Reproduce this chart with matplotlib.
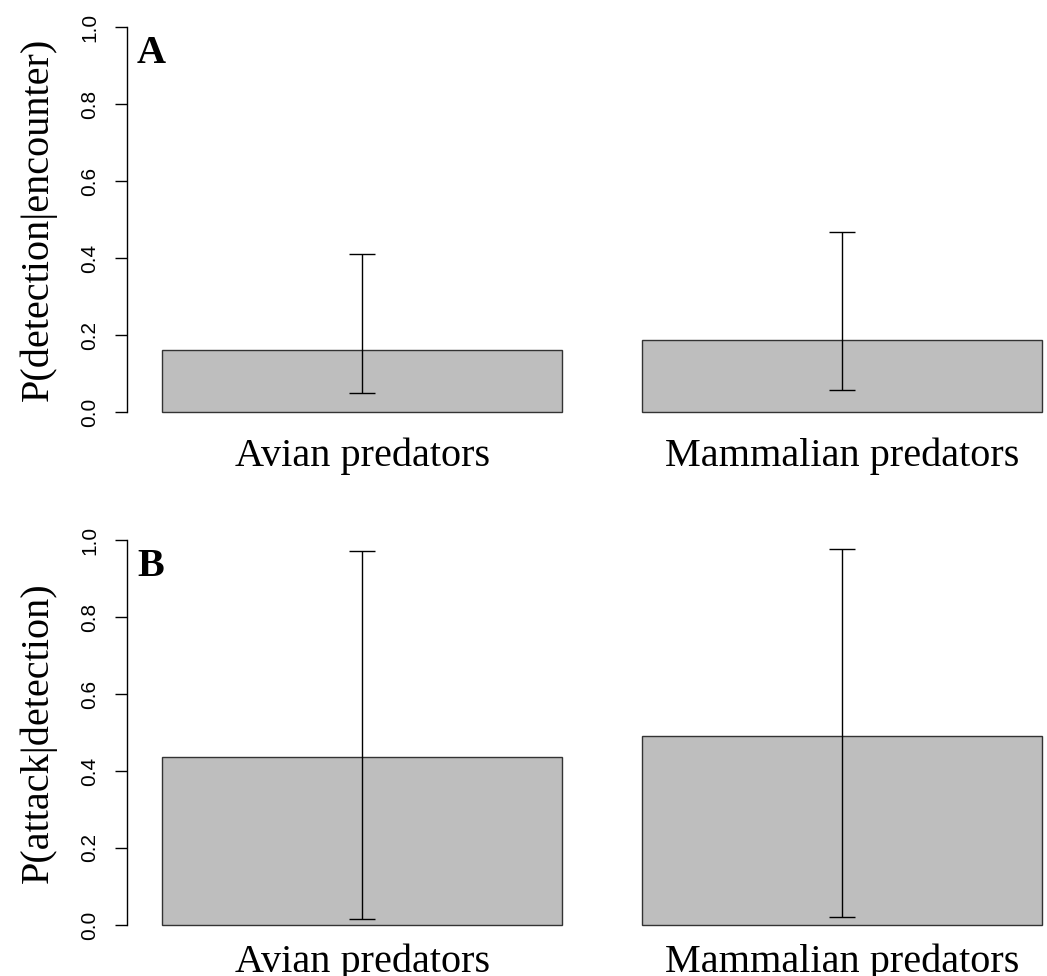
import numpy as np
import matplotlib.pyplot as plt

# Datos
grupos = ["Avian predators", "Mammalian predators"]
det_media = [0.161, 0.187]
det_inf = [0.050, 0.056]
det_sup = [0.410, 0.468]
ata_media = [0.437, 0.492]
ata_inf = [0.016, 0.022]
ata_sup = [0.972, 0.976]

W, H = 1047, 976
fig = plt.figure(figsize=(W / 100, H / 100), dpi=100)

# posiciones tipo barplot de R: ancho 1, espacio 0.2
x = np.array([0.7, 1.9])
xlim = (0.112, 2.488)


def panel(rect, medias, inf, sup, ylabel, letra, xpad):
    ax = fig.add_axes(rect)
    ax.bar(x, medias, width=1.0, color="#bebebe", edgecolor="#333333", linewidth=1.0, zorder=1)
    err = [np.array(medias) - np.array(inf), np.array(sup) - np.array(medias)]
    ax.errorbar(x, medias, yerr=err, fmt="none", ecolor="black", elinewidth=1.0,
                capsize=9.4, capthick=1.0, zorder=2)
    ax.set_xlim(*xlim)
    ax.set_ylim(-0.04, 1.04)
    for s in ["top", "right", "bottom"]:
        ax.spines[s].set_visible(False)
    ax.spines["left"].set_bounds(0, 1)
    ax.spines["left"].set_linewidth(1.0)
    ax.set_yticks(np.arange(0, 1.01, 0.2))
    ax.set_yticklabels([f"{v:.1f}" for v in np.arange(0, 1.01, 0.2)],
                       rotation=90, va="center", fontsize=15, family="Liberation Sans")
    ax.tick_params(axis="y", length=9, width=1.0, pad=11)
    ax.set_xticks(x)
    ax.set_xticklabels(grupos, fontsize=29, family="Liberation Serif")
    ax.tick_params(axis="x", length=0, pad=xpad)
    ax.set_ylabel(ylabel, fontsize=29, family="Liberation Serif", labelpad=17)
    ax.text(0.137, 0.979, letra, fontsize=29, fontweight="bold", family="Liberation Serif",
            ha="left", va="top")
    return ax


panel([127 / W, (H - 427.4) / H, 950.4 / W, 415.8 / H], det_media, det_inf, det_sup,
      "P(detection|encounter)", "A", 7)
panel([127 / W, (H - 940.4) / H, 950.4 / W, 415.8 / H], ata_media, ata_inf, ata_sup,
      "P(attack|detection)", "B", 2)

plt.savefig("out.png", dpi=100)
